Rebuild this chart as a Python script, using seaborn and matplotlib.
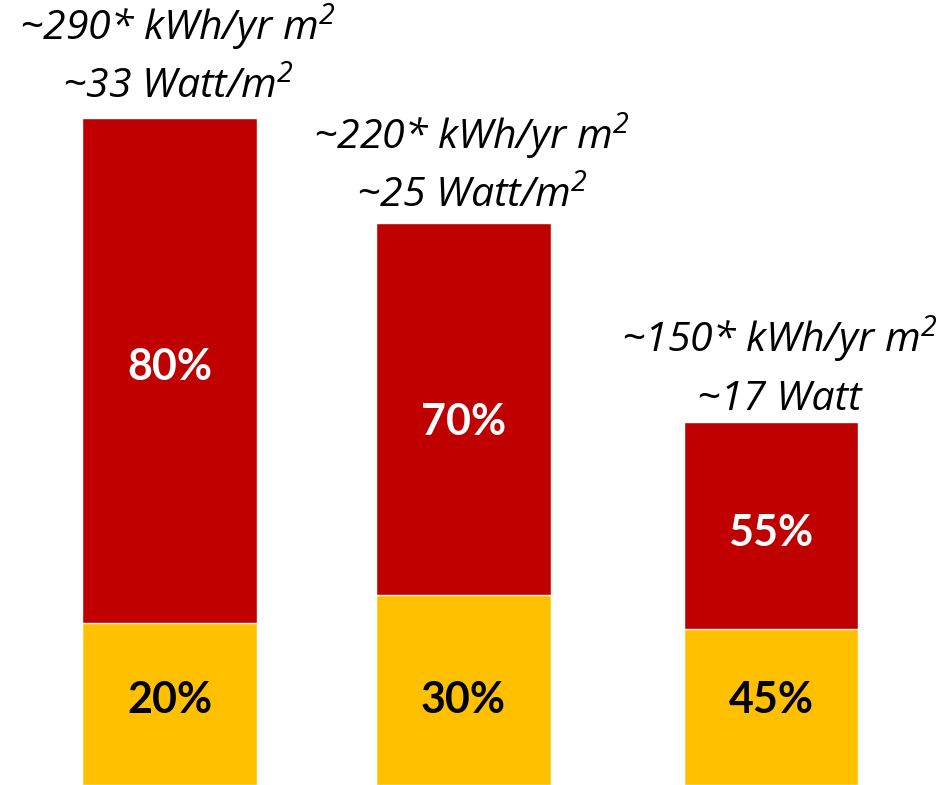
import numpy as np
import pandas as pd
import seaborn as sns
import matplotlib.pyplot as plt

sns.set_theme(style="white")
plt.rcParams['font.family'] = ['Lato', 'DejaVu Sans']
plt.rcParams['mathtext.default'] = 'regular'

# data (heights in picture units, from the bottom edge)
categories = ["Case 1", "Case 2", "Case 3"]
total_height = [667, 562, 363]
yellow_height = [162, 190, 156]
red_share = ["80%", "70%", "55%"]
yellow_share = ["20%", "30%", "45%"]
energy_labels = [r"~290* kWh/yr m$^{2}$", r"~220* kWh/yr m$^{2}$", r"~150* kWh/yr m$^{2}$"]
power_labels = [r"~33 Watt/m$^{2}$", r"~25 Watt/m$^{2}$", "~17 Watt"]

# layout (bar centres in picture px, label tweaks)
bar_pos = [169.5, 463.5, 771]
label_gap = [20, 16, 12]
red_shift = [4, -13, -7]

red = "#C00000"
yellow = "#FFC000"

df = pd.DataFrame({"case": categories, "total": total_height, "yellow": yellow_height,
                   "pos": bar_pos})

fig = plt.figure(figsize=(9.4, 7.85), dpi=100)
ax = fig.add_axes([0, 0, 1, 1])

sns.barplot(x="pos", y="total", data=df, color=red, saturation=1, width=0.595,
            native_scale=True, ax=ax)
sns.barplot(x="pos", y="yellow", data=df, color=yellow, saturation=1, width=0.595,
            native_scale=True, ax=ax)

ax.set_xlim(0, 940)
ax.set_ylim(0, 785)
ax.set_axis_off()

for i in range(len(categories)):
    x = df["pos"][i]
    red_mid = (df["total"][i] + df["yellow"][i]) / 2 + red_shift[i]
    ax.text(x, red_mid, red_share[i], color="white", fontsize=31, fontweight="bold",
            ha="center", va="center")
    ax.text(x, 85, yellow_share[i], color="black", fontsize=31, fontweight="bold",
            ha="center", va="center")
    base = df["total"][i] + label_gap[i]
    ax.text(x + 8, base, power_labels[i], family="Open Sans", color="black",
            fontsize=29.5, fontstyle="italic", ha="center", va="baseline")
    ax.text(x + 8, base + 58, energy_labels[i], family="Open Sans", color="black",
            fontsize=29.5, fontstyle="italic", ha="center", va="baseline")

plt.savefig("out.png", dpi=100)
